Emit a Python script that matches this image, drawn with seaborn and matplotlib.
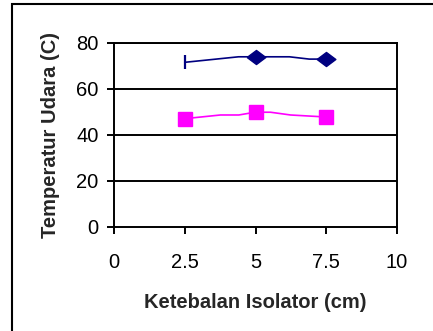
import matplotlib
matplotlib.use("Agg")
import matplotlib.pyplot as plt
import seaborn as sns
import pandas as pd
from matplotlib.patches import Rectangle

# data
navy_line_x = [2.5, 4.4, 5.0, 6.2, 6.9, 7.5]
navy_line_y = [71.6, 74.0, 74.0, 74.0, 73.0, 73.0]
pink_line_x = [2.5, 3.76, 4.41, 4.98, 5.53, 6.24, 7.53]
pink_line_y = [47.1, 48.7, 48.7, 49.9, 49.9, 48.7, 47.8]
marker_x = [2.5, 5.0, 7.5]
navy_marker_y = [71.6, 74.0, 73.0]
pink_marker_y = [47.1, 49.9, 47.8]
x_ticks = [0, 2.5, 5, 7.5, 10]
x_tick_labels = ["0", "2.5", "5", "7.5", "10"]
y_ticks = [0, 20, 40, 60, 80]

sns.set_style("white")
plt.rcParams['font.family'] = ['Liberation Sans', 'DejaVu Sans']

fig = plt.figure(figsize=(4.33, 3.31), dpi=100)
ax = fig.add_axes([114/433, 1-227/331, (397-114)/433, (227-43)/331])

NAVY = "#000080"
PINK = "#FF00FF"

sns.lineplot(x=navy_line_x, y=navy_line_y, ax=ax, color=NAVY, lw=1.2, sort=False)
sns.lineplot(x=pink_line_x, y=pink_line_y, ax=ax, color=PINK, lw=1.2, sort=False)

# markers
wide_diamond = [(-1, 0), (0, 0.75), (1, 0), (0, -0.75), (-1, 0)]
ax.plot(marker_x[:1], navy_marker_y[:1], ls='none', marker='|', ms=10, mew=1.6, color=NAVY)
ax.plot(marker_x[1:], navy_marker_y[1:], ls='none', marker=wide_diamond, ms=13.5, color=NAVY)
ax.plot(marker_x, pink_marker_y, ls='none', marker='s', ms=9.5, color=PINK)

ax.set_xlim(0, 10)
ax.set_ylim(0, 80)
ax.set_xticks(x_ticks)
ax.set_xticklabels(x_tick_labels)
ax.set_yticks(y_ticks)
for yv in y_ticks[1:]:
    ax.axhline(yv, color='black', lw=1.4, zorder=0.5)

for s in ax.spines.values():
    s.set_visible(True)
    s.set_color('black')
    s.set_linewidth(1.4)

FS = 14.5
ax.tick_params(axis='both', which='major', bottom=True, left=True, direction='out',
               length=5, width=1.4, color='black', labelsize=FS, labelcolor='black')
ax.tick_params(axis='x', pad=14)
ax.tick_params(axis='y', pad=6)

ax.set_xlabel("Ketebalan Isolator (cm)", fontsize=FS, fontweight='bold', labelpad=15)
ax.set_ylabel("Temperatur Udara (C)", fontsize=FS, fontweight='bold', labelpad=12)

# outer chart border
fig.patches.append(Rectangle((12/433, -0.2), 1.2, 1.2 - 4/331, transform=fig.transFigure,
                             fill=False, edgecolor='black', lw=1.5))

fig.savefig("out.png", dpi=100)
